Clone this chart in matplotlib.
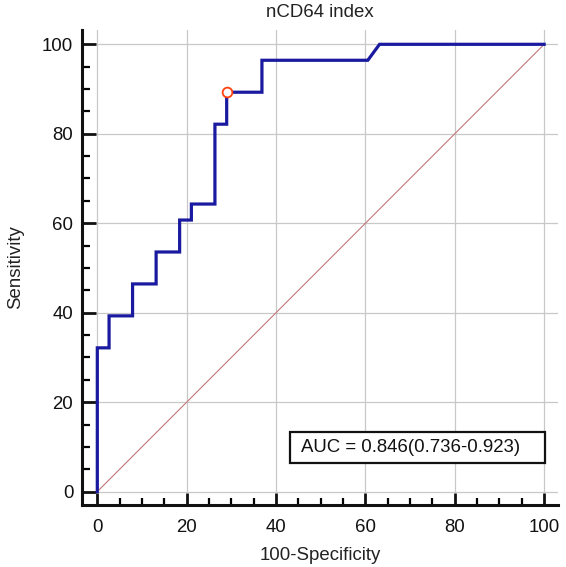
import matplotlib
matplotlib.use("Agg")
import matplotlib.pyplot as plt
from matplotlib.patches import Rectangle
from matplotlib.ticker import MultipleLocator

plt.rcParams['font.family'] = ['Liberation Sans', 'DejaVu Sans']

# ROC curve (100-Specificity, Sensitivity), step points
fpr = [0, 0, 2.63, 2.63, 7.89, 7.89, 13.16, 13.16, 18.42, 18.42, 21.05, 21.05,
       26.32, 26.32, 28.95, 28.95, 36.84, 36.84, 60.53, 63.16, 100]
tpr = [0, 32.14, 32.14, 39.29, 39.29, 46.43, 46.43, 53.57, 53.57, 60.71, 60.71,
       64.29, 64.29, 82.14, 82.14, 89.29, 89.29, 96.43, 96.43, 100, 100]
cut_x = [28.95]
cut_y = [89.29]
diag = [0, 100]
ticks = [0, 20, 40, 60, 80, 100]
title = "nCD64 index"
auc_text = "AUC = 0.846(0.736-0.923)"

FS = 13.4

fig = plt.figure(figsize=(5.66, 5.67), dpi=100)
ax = fig.add_axes([0.1443, 0.1093, 0.9859 - 0.1443, 0.9471 - 0.1093])

ax.set_xlim(-3.5, 103.1)
ax.set_ylim(-3.0, 103.2)

ax.plot(diag, diag, color='#c07878', lw=0.8, zorder=2)
ax.plot(fpr, tpr, color='#1a1aa0', lw=2.3, zorder=3, solid_joinstyle='miter')
ax.plot(cut_x, cut_y, 'o', ms=7, mfc='white', mec='#ff4010', mew=1.3, zorder=4)

ax.set_xticks(ticks)
ax.set_yticks(ticks)
ax.xaxis.set_minor_locator(MultipleLocator(5))
ax.yaxis.set_minor_locator(MultipleLocator(5))
ax.grid(True, which='major', color='#c8c8c8', lw=0.9, zorder=0)
ax.set_axisbelow(True)

for s in ['top', 'right']:
    ax.spines[s].set_visible(False)
for s in ['left', 'bottom']:
    ax.spines[s].set_linewidth(2.2)
    ax.spines[s].set_color('#111111')

ax.tick_params(axis='y', which='major', direction='in', length=10, width=2, pad=6,
               labelsize=FS, colors='#111111')
ax.tick_params(axis='y', which='minor', direction='in', length=5.5, width=1.6)
ax.tick_params(axis='x', which='major', direction='in', length=9, width=2, pad=10,
               labelsize=FS, colors='#111111')
ax.tick_params(axis='x', which='minor', direction='in', length=5, width=1.6)

ax.set_title(title, fontsize=FS, color='#222222', pad=9)
ax.set_xlabel("100-Specificity", fontsize=FS, color='#222222', labelpad=8)
ax.set_ylabel("Sensitivity", fontsize=FS, color='#222222', labelpad=13)

ax.add_patch(Rectangle((43.1, 6.3), 57.1, 7.1, fill=True, facecolor='white',
                       edgecolor='#111111', lw=1.6, zorder=5))
ax.text(45.6, 9.85, auc_text, ha='left', va='center', fontsize=FS,
        color='#111111', zorder=6)

fig.savefig("out.png", dpi=100)
